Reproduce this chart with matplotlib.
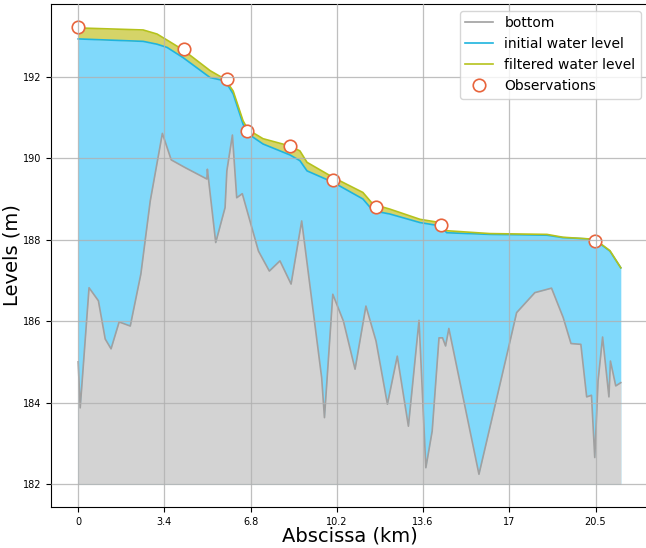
import matplotlib
matplotlib.use("Agg")
import matplotlib.pyplot as plt

# bottom profile (km, m)
bottom_x = [0, 0.08, 0.43, 0.80, 1.07, 1.30, 1.62, 2.06, 2.48, 2.85, 3.33, 3.68,
            4.23, 5.09, 5.11, 5.44, 5.81, 5.88, 6.10, 6.27, 6.49, 7.13, 7.56, 7.98,
            8.42, 8.84, 9.63, 9.74, 10.07, 10.49, 10.95, 11.38, 11.78, 12.23, 12.62,
            13.06, 13.48, 13.75, 14.00, 14.27, 14.41, 14.53, 14.66, 15.85, 17.08,
            17.34, 18.06, 18.72, 19.18, 19.49, 19.88, 20.11, 20.30, 20.43, 20.56,
            20.74, 20.99, 21.05, 21.26, 21.46]
bottom_z = [185.0, 183.87, 186.82, 186.50, 185.56, 185.32, 185.98, 185.88, 187.16,
            188.95, 190.61, 189.96, 189.77, 189.49, 189.73, 187.93, 188.79, 189.69,
            190.57, 189.03, 189.13, 187.72, 187.23, 187.48, 186.91, 188.46, 184.61,
            183.63, 186.66, 186.00, 184.82, 186.37, 185.51, 183.96, 185.14, 183.42,
            186.02, 182.40, 183.30, 185.59, 185.59, 185.39, 185.82, 182.24, 185.51,
            186.21, 186.70, 186.81, 186.09, 185.45, 185.43, 184.14, 184.18, 182.65,
            184.53, 185.61, 184.14, 185.02, 184.41, 184.49]

# water levels
water_x = [0, 2.57, 3.12, 3.52, 4.15, 5.22, 5.81, 6.13, 6.52, 6.72, 7.31, 8.38,
           8.77, 9.05, 10.08, 11.26, 11.66, 12.33, 13.52, 14.31, 14.58, 16.28,
           18.54, 19.17, 20.43, 20.75, 21.03, 21.46]
initial = [192.93, 192.87, 192.80, 192.72, 192.47, 191.98, 191.90, 191.58, 190.84,
           190.60, 190.35, 190.08, 189.94, 189.69, 189.41, 189.00, 188.71, 188.63,
           188.42, 188.34, 188.17, 188.13, 188.11, 188.05, 188.01, 187.85, 187.72,
           187.31]
filtered = [193.20, 193.15, 193.05, 192.90, 192.66, 192.15, 191.94, 191.65, 190.92,
            190.70, 190.48, 190.30, 190.18, 189.90, 189.53, 189.16, 188.87, 188.75,
            188.50, 188.42, 188.22, 188.15, 188.13, 188.06, 188.01, 187.86, 187.73,
            187.31]

# observations
obs_x = [0, 4.19, 5.89, 6.68, 8.38, 10.08, 11.78, 14.35, 20.43]
obs_z = [193.23, 192.69, 191.95, 190.67, 190.30, 189.47, 188.81, 188.36, 187.97]

xticks = [0, 3.41, 6.82, 10.23, 13.64, 17.05, 20.46]
xtick_labels = ["0", "3.4", "6.8", "10.2", "13.6", "17", "20.5"]

fig, ax = plt.subplots(figsize=(6.46, 5.48), dpi=100)
fig.subplots_adjust(left=0.079, right=1.003, top=0.993, bottom=0.075)

ax.fill_between(water_x, 182, initial, color="#80d9fb", lw=0)
ax.fill_between(bottom_x, 182, bottom_z, color="#d3d3d3", lw=0)
ax.fill_between(water_x, initial, filtered, color="#d5d468", lw=0)

ax.plot(bottom_x, bottom_z, color="#a0a0a0", lw=1.2, label="bottom")
ax.plot(water_x, initial, color="#1eb4de", lw=1.2, label="initial water level")
ax.plot(water_x, filtered, color="#b5c21c", lw=1.2, label="filtered water level")
ax.plot(obs_x, obs_z, "o", ms=9, mfc="white", mec="#e8643c", mew=1.2,
        label="Observations")

ax.set_xticks(xticks)
ax.set_xticklabels(xtick_labels)
ax.tick_params(labelsize=7)
ax.grid(True, color="#b0b0b0", lw=0.9, alpha=0.8)
ax.set_axisbelow(False)

ax.set_xlabel("Abscissa (km)", fontsize=14, labelpad=0)
ax.set_ylabel("Levels (m)", fontsize=14, labelpad=1)
ax.legend(loc="upper right", fontsize=10)

fig.savefig("out.png", dpi=100)
